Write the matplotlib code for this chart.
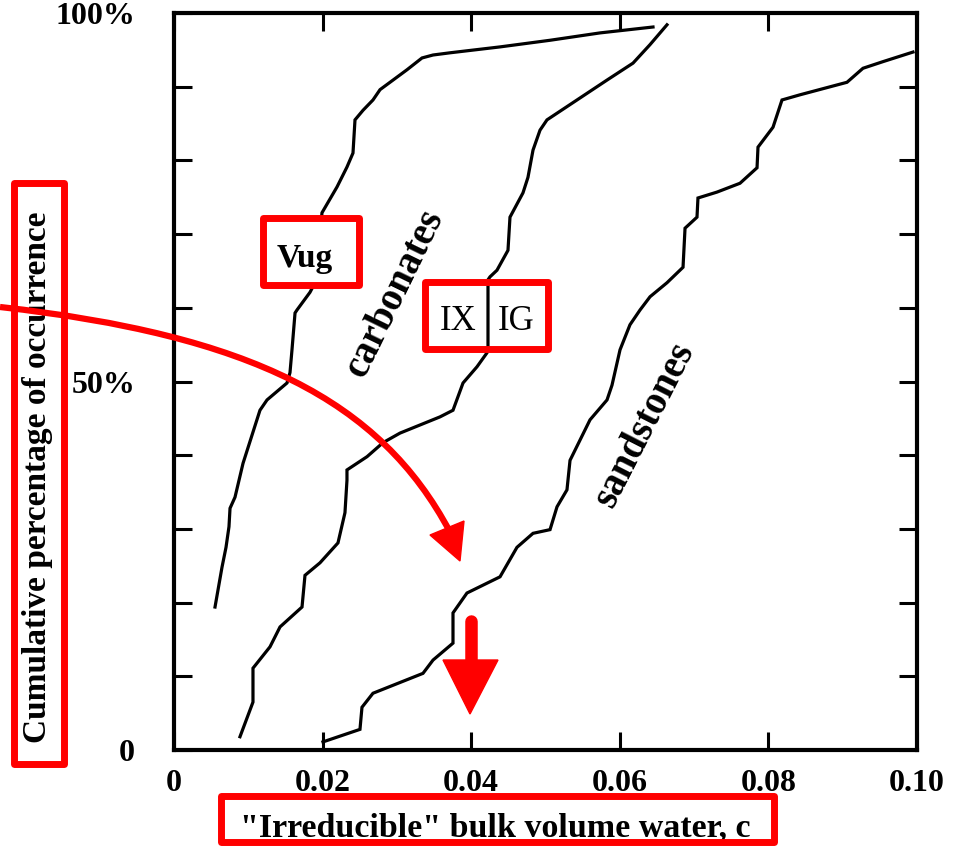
import matplotlib
matplotlib.use("Agg")
import matplotlib.pyplot as plt
from matplotlib.patches import Rectangle, Polygon, PathPatch
from matplotlib.path import Path
import numpy as np

plt.rcParams['font.family'] = ['Liberation Serif', 'DejaVu Serif']

# ---- data ----
vug_x = [0.00552, 0.00646, 0.00700, 0.00740, 0.00754, 0.00821, 0.00929, 0.01157, 0.01252,
         0.01521, 0.01561, 0.01588, 0.01629, 0.01655, 0.01830, 0.01898, 0.01965, 0.01992,
         0.02194, 0.02328, 0.02409, 0.02436, 0.02544, 0.02678, 0.02773, 0.02948, 0.03136,
         0.03338, 0.03486, 0.03715, 0.04388, 0.05061, 0.05734, 0.06447]
vug_y = [19.4, 24.8, 27.5, 30.3, 32.8, 34.3, 38.9, 46.1, 47.5,
         49.8, 51.2, 54.3, 59.3, 59.7, 62.1, 63.4, 70.1, 72.9,
         76.4, 79.1, 81.0, 85.5, 86.8, 88.2, 89.6, 90.9, 92.3,
         93.9, 94.3, 94.6, 95.4, 96.3, 97.3, 98.1]

ixig_x = [0.00888, 0.01063, 0.01063, 0.01292, 0.01427, 0.01723, 0.01763, 0.01965, 0.02207,
          0.02301, 0.02328, 0.02328, 0.02598, 0.02813, 0.03042, 0.03580, 0.03755, 0.03890,
          0.04078, 0.04213, 0.04226, 0.04226, 0.04253, 0.04347, 0.04495, 0.04522, 0.04697,
          0.04764, 0.04832, 0.04926, 0.05020, 0.05424, 0.05828, 0.06178, 0.06406, 0.06635]
ixig_y = [1.8, 6.5, 11.1, 14.0, 16.7, 19.4, 23.7, 25.4, 28.1,
          32.2, 36.6, 38.0, 39.8, 41.7, 43.0, 45.2, 46.1, 49.8,
          52.0, 53.9, 54.7, 63.8, 64.2, 65.1, 67.8, 72.3, 75.6,
          77.7, 81.4, 84.1, 85.5, 88.2, 90.9, 93.2, 95.7, 98.4]

sand_x = [0.02005, 0.02503, 0.02530, 0.02678, 0.03351, 0.03486, 0.03755, 0.03755, 0.03943,
          0.04388, 0.04616, 0.04832, 0.05061, 0.05155, 0.05289, 0.05330, 0.05599, 0.05828,
          0.05895, 0.06003, 0.06137, 0.06272, 0.06407, 0.06635, 0.06851, 0.06878, 0.07039,
          0.07052, 0.07308, 0.07618, 0.07847, 0.07860, 0.08062, 0.08183, 0.08425, 0.09058,
          0.09273, 0.09542, 0.09946]
sand_y = [1.1, 2.8, 5.8, 7.7, 10.4, 12.2, 14.5, 18.6, 21.3,
          23.5, 27.5, 29.4, 29.9, 33.0, 35.3, 39.3, 44.8, 47.5,
          49.5, 54.3, 57.7, 59.7, 61.5, 63.4, 65.5, 70.8, 72.3,
          74.9, 75.7, 76.9, 79.0, 81.8, 84.5, 88.2, 88.9, 90.6,
          92.5, 93.4, 94.7]

x_ticks = [0, 0.02, 0.04, 0.06, 0.08, 0.10]
x_tick_labels = ['0', '0.02', '0.04', '0.06', '0.08', '0.10']
y_ticks = [0, 10, 20, 30, 40, 50, 60, 70, 80, 90, 100]
y_tick_labels = ['0', '', '', '', '', '50%', '', '', '', '', '100%']

W, H = 961, 849
fig = plt.figure(figsize=(W / 100, H / 100), dpi=100)
ax = fig.add_axes([174 / W, 99 / H, 743 / W, 737 / H])

lw_curve = 2.3
for xs, ys in [(vug_x, vug_y), (ixig_x, ixig_y), (sand_x, sand_y)]:
    ax.plot(xs, ys, color='black', lw=lw_curve, solid_joinstyle='miter')

ax.set_xlim(0, 0.10)
ax.set_ylim(0, 100)
ax.set_xticks(x_ticks)
ax.set_xticklabels(x_tick_labels)
ax.set_yticks(y_ticks)
ax.set_yticklabels(y_tick_labels)
ax.tick_params(direction='in', length=13, width=2.2, top=True, right=True,
               labelsize=23, colors='black')
ax.tick_params(axis='x', pad=14)
ax.tick_params(axis='y', pad=28)
for lab in ax.get_xticklabels() + ax.get_yticklabels():
    lab.set_fontweight('bold')
for s in ax.spines.values():
    s.set_linewidth(3.0)

ax.set_xlabel('"Irreducible" bulk volume water, c', fontsize=24.5, fontweight='bold')
ax.set_ylabel('Cumulative percentage of occurrence', fontsize=24, fontweight='bold')
ax.xaxis.label.set_va('center')
ax.yaxis.label.set_va('center')
ax.xaxis.set_label_coords((495 - 174) / 743, (750 - 828) / 737)
ax.yaxis.set_label_coords((38 - 174) / 743, (750 - 477) / 737)

def P(px, py):
    return (px / W, 1 - py / H)

# rotated group labels
fig.text(*P(395, 293), 'carbonates', fontsize=28, fontweight='bold', rotation=64,
         ha='center', va='center', rotation_mode='anchor', zorder=5)
fig.text(*P(645, 425), 'sandstones', fontsize=28, fontweight='bold', rotation=63,
         ha='center', va='center', rotation_mode='anchor', zorder=5)

red = '#ff0000'
box_lw = 5.0

def box(x0, y0, x1, y1, fill):
    (fx0, fy1), (fx1, fy0) = P(x0, y0), P(x1, y1)
    r = Rectangle((fx0, fy0), fx1 - fx0, fy1 - fy0, transform=fig.transFigure,
                  facecolor='white' if fill else 'none', edgecolor=red, lw=box_lw,
                  joinstyle='round', zorder=2)
    fig.add_artist(r)

box(14, 183, 64, 764, False)
box(263, 218, 359, 285, True)
box(425, 282, 548, 349, False)
box(221, 796, 774, 842, False)

fig.text(*P(305, 258), 'Vug', fontsize=24, fontweight='bold', ha='center', va='center', zorder=6)
fig.text(*P(458, 322), 'IX', fontsize=25, ha='center', va='center', zorder=6)
fig.text(*P(516, 322), 'IG', fontsize=25, ha='center', va='center', zorder=6)

# curved red arrow
verts = [P(0, 307), P(250, 335), P(380, 400), P(450, 532)]
path = Path(verts, [Path.MOVETO, Path.CURVE4, Path.CURVE4, Path.CURVE4])
fig.add_artist(PathPatch(path, transform=fig.transFigure, facecolor='none',
                         edgecolor=red, lw=4.5, zorder=3))
fig.add_artist(Polygon([P(460, 561), P(430, 535), P(464, 521)], closed=True,
                       transform=fig.transFigure, facecolor=red, edgecolor=red, lw=1, zorder=3))

# straight down arrow
fig.add_artist(plt.Line2D([P(471, 621)[0], P(471, 665)[0]], [P(471, 621)[1], P(471, 665)[1]],
                          transform=fig.transFigure, color=red, lw=9, solid_capstyle='round', zorder=3))
fig.add_artist(Polygon([P(443, 660), P(498, 660), P(470, 714)], closed=True,
                       transform=fig.transFigure, facecolor=red, edgecolor=red, lw=1, zorder=3))

fig.savefig('out.png', dpi=100, facecolor='white')
